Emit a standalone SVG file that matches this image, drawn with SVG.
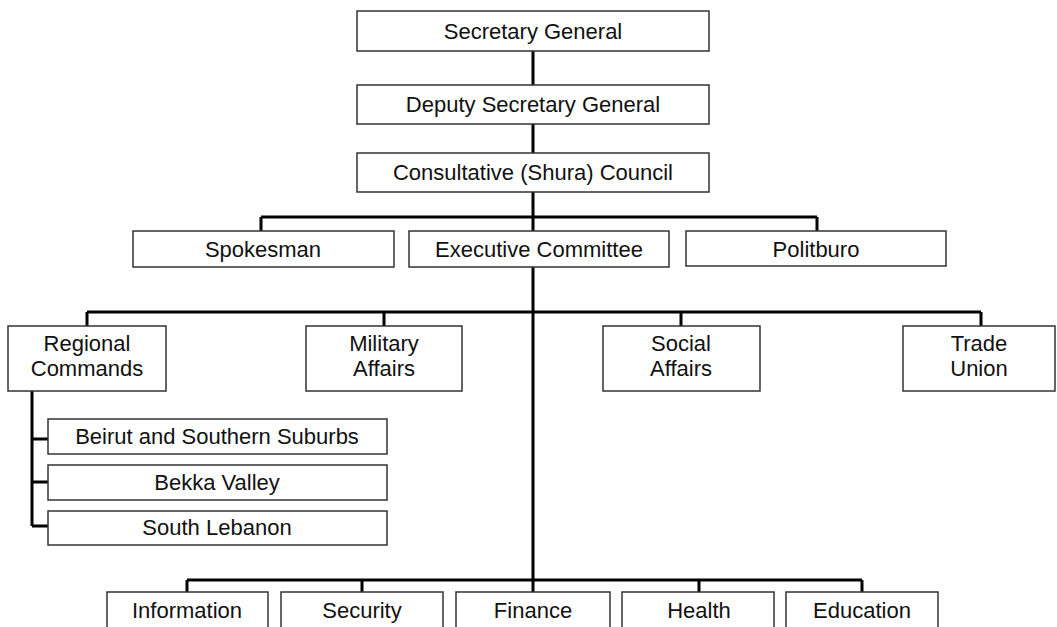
<svg xmlns="http://www.w3.org/2000/svg" width="1057" height="627" viewBox="0 0 1057 627">
<style>
.box{fill:#fff;stroke:#333;stroke-width:1.5}
.t{font-family:"Liberation Sans",Arial,sans-serif;font-size:22px;fill:#111;text-anchor:middle}
.c{fill:none;stroke:#000;stroke-width:3}
</style>
<rect width="1057" height="627" fill="#fff"/>
<g id="connectors">
<path class="c" d="M533 51V85M533 124V153M533 192V231M261 217H817M261 217V231M817 217V231"/>
<path class="c" d="M533 267V592M87 312H981M87 312V326M384 312V326M681 312V326M981 312V326"/>
<path class="c" d="M32 391V526M32 439H48M32 482H48M32 526H48"/>
<path class="c" d="M187 580H862M187 580V592M362 580V592M699 580V592M862 580V592"/>
</g>
<g id="secretary-general"><rect class="box" x="357" y="11" width="352" height="40"/><text class="t" x="533" y="39">Secretary General</text></g>
<g id="deputy-secretary-general"><rect class="box" x="357" y="85" width="352" height="39"/><text class="t" x="533" y="112">Deputy Secretary General</text></g>
<g id="shura-council"><rect class="box" x="357" y="153" width="352" height="39"/><text class="t" x="533" y="180">Consultative (Shura) Council</text></g>
<g id="spokesman"><rect class="box" x="133" y="231" width="261" height="36"/><text class="t" x="263" y="257">Spokesman</text></g>
<g id="executive-committee"><rect class="box" x="409" y="231" width="260" height="36"/><text class="t" x="539" y="257">Executive Committee</text></g>
<g id="politburo"><rect class="box" x="686" y="231" width="260" height="35"/><text class="t" x="816" y="257">Politburo</text></g>
<g id="regional-commands"><rect class="box" x="8" y="326" width="158" height="65"/><text class="t" x="87" y="351">Regional<tspan x="87" dy="25">Commands</tspan></text></g>
<g id="military-affairs"><rect class="box" x="306" y="326" width="156" height="65"/><text class="t" x="384" y="351">Military<tspan x="384" dy="25">Affairs</tspan></text></g>
<g id="social-affairs"><rect class="box" x="603" y="326" width="157" height="65"/><text class="t" x="681" y="351">Social<tspan x="681" dy="25">Affairs</tspan></text></g>
<g id="trade-union"><rect class="box" x="903" y="326" width="152" height="65"/><text class="t" x="979" y="351">Trade<tspan x="979" dy="25">Union</tspan></text></g>
<g id="beirut"><rect class="box" x="48" y="419" width="339" height="35"/><text class="t" x="217" y="444">Beirut and Southern Suburbs</text></g>
<g id="bekka"><rect class="box" x="48" y="465" width="339" height="35"/><text class="t" x="217" y="490">Bekka Valley</text></g>
<g id="south-lebanon"><rect class="box" x="48" y="511" width="339" height="34"/><text class="t" x="217" y="535">South Lebanon</text></g>
<g id="information"><rect class="box" x="107" y="592" width="161" height="45"/><text class="t" x="187" y="618">Information</text></g>
<g id="security"><rect class="box" x="281" y="592" width="162" height="45"/><text class="t" x="362" y="618">Security</text></g>
<g id="finance"><rect class="box" x="456" y="592" width="154" height="45"/><text class="t" x="533" y="618">Finance</text></g>
<g id="health"><rect class="box" x="622" y="592" width="152" height="45"/><text class="t" x="699" y="618">Health</text></g>
<g id="education"><rect class="box" x="786" y="592" width="152" height="45"/><text class="t" x="862" y="618">Education</text></g>
</svg>
